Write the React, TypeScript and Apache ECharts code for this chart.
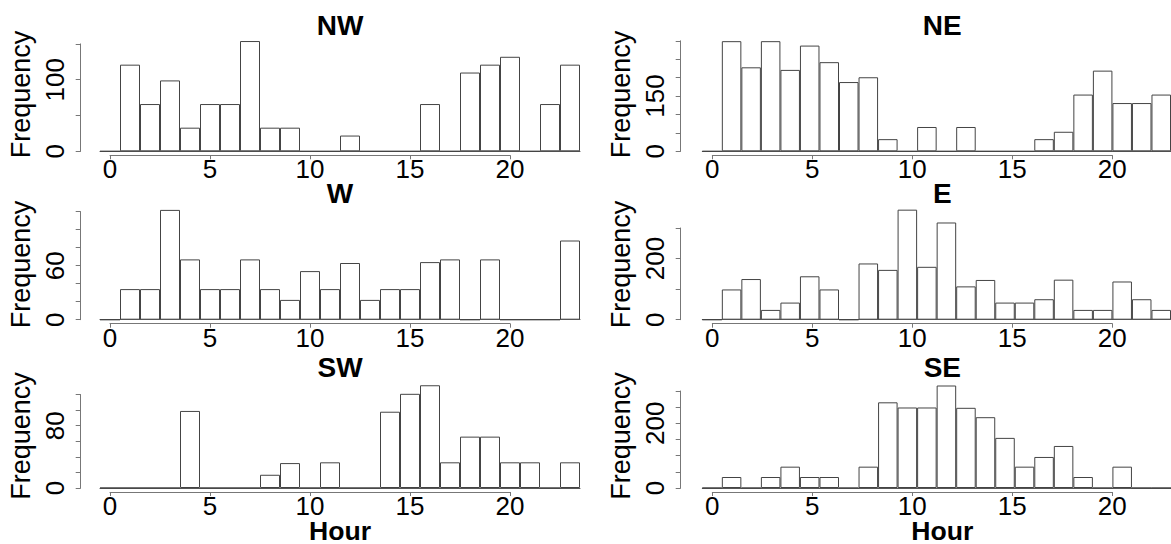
import React, { useEffect, useRef } from "react";
import * as echarts from "echarts";

// ---- data ----
const hours = ["0","1","2","3","4","5","6","7","8","9","10","11","12","13","14","15","16","17","18","19","20","21","22","23"];
const xTicks = [0, 5, 10, 15, 20];

const nwCounts = [0, 121, 66, 99, 33, 66, 66, 154, 33, 33, 0, 0, 22, 0, 0, 0, 66, 0, 110, 121, 132, 0, 66, 121];
const neCounts = [0, 299, 228, 299, 221, 287, 242, 188, 201, 33, 0, 66, 0, 66, 0, 0, 0, 33, 53, 154, 219, 131, 131, 154];
const wCounts = [0, 34, 34, 122, 67, 34, 34, 67, 34, 22, 54, 34, 63, 22, 34, 34, 64, 67, 0, 67, 0, 0, 0, 88];
const eCounts = [0, 99, 133, 32, 56, 142, 99, 0, 184, 163, 360, 173, 318, 109, 130, 56, 56, 67, 131, 32, 32, 125, 67, 32];
const swCounts = [0, 0, 0, 0, 99, 0, 0, 0, 17, 32, 0, 33, 0, 0, 98, 121, 132, 33, 66, 66, 33, 33, 0, 33];
const seCounts = [0, 34, 0, 34, 66, 34, 34, 0, 66, 265, 249, 249, 317, 248, 219, 155, 66, 96, 130, 34, 0, 66, 0, 0];

const panelNames = ["NW", "NE", "W", "E", "SW", "SE"];
const panelCounts = [nwCounts, neCounts, wCounts, eCounts, swCounts, seCounts];
const yTickMax = [150, 300, 120, 300, 120, 300];
const yTickStep = [50, 50, 20, 100, 20, 50];
const yShownLabels = [[0, 100], [0, 150], [0, 60], [0, 200], [0, 80], [0, 200]];

// ---- layout (pixels) ----
const rowBase = [151.3, 319.7, 488];
const colBinLeft = [100, 702.3];
const colZero = [110, 712.3];
const colAxisX = [80.7, 680.7];
const plotH = [107.4, 110.5, 108, 91.7, 93.4, 97];
const titleY = [25.5, 193, 367];
const freqY = [94.5, 264.5, 436];
const FONT = "'Liberation Sans', Arial, Helvetica, sans-serif";

export default function App() {
  const ref = useRef<HTMLDivElement>(null);
  useEffect(() => {
    if (!ref.current) return;
    const chart = echarts.init(ref.current, null, { renderer: "svg" });
    const grids: any[] = [];
    const xAxes: any[] = [];
    const yAxes: any[] = [];
    const series: any[] = [];
    const graphics: any[] = [];
    const n = panelNames.length;
    for (let i = 0; i < n; i++) {
      const r = Math.floor(i / 2);
      const c = i % 2;
      const B = rowBase[r];
      grids.push({ left: colBinLeft[c], top: B - plotH[i], width: 480, height: plotH[i] });
      xAxes.push({
        type: "category", gridIndex: i, data: hours, boundaryGap: true,
        axisLine: { show: true, lineStyle: { color: "#555", width: 1 } },
        axisTick: { show: false }, axisLabel: { show: false }, splitLine: { show: false },
      });
      const shown = yShownLabels[i];
      yAxes.push({
        type: "value", gridIndex: i, min: 0, max: yTickMax[i], interval: yTickStep[i],
        position: "left", offset: colBinLeft[c] - colAxisX[c],
        axisLine: { show: true, lineStyle: { color: "#777", width: 1 } },
        axisTick: { show: true, length: 5, lineStyle: { color: "#777" } },
        axisLabel: {
          rotate: 90, margin: 13, fontSize: 26, fontFamily: FONT, color: "#000",
          showMinLabel: true, showMaxLabel: true,
          formatter: (v: number) => (shown.indexOf(v) >= 0 ? String(v) : ""),
        },
        splitLine: { show: false },
      });
      series.push({
        type: "bar", xAxisIndex: i, yAxisIndex: i, data: panelCounts[i],
        barCategoryGap: "0%", barGap: "0%", clip: false, silent: true,
        itemStyle: { color: "#ffffff", borderColor: "#444", borderWidth: 1 },
      });
      graphics.push({
        type: "text", x: colZero[c] + 230, y: titleY[r],
        style: { text: panelNames[i], fontSize: 28, fontWeight: "bold", fontFamily: FONT, fill: "#000",
          textAlign: "center", textVerticalAlign: "middle", align: "center", verticalAlign: "middle" },
      });
      graphics.push({
        type: "text", x: colAxisX[c] - 59.5, y: freqY[r], rotation: Math.PI / 2,
        style: { text: "Frequency", fontSize: 27, fontFamily: FONT, fill: "#000",
          textAlign: "center", textVerticalAlign: "middle", align: "center", verticalAlign: "middle" },
      });
    }
    for (let i = 0; i < n; i++) {
      const r = Math.floor(i / 2);
      const c = i % 2;
      const B = rowBase[r];
      const gi = n + i;
      grids.push({ left: colZero[c], top: B + 3, width: 400, height: 1 });
      xAxes.push({
        type: "value", gridIndex: gi, min: xTicks[0], max: xTicks[xTicks.length - 1], interval: xTicks[1] - xTicks[0],
        position: "bottom",
        axisLine: { show: true, lineStyle: { color: "#777", width: 1 } },
        axisTick: { show: true, length: 4, lineStyle: { color: "#777" } },
        axisLabel: { margin: 3, fontSize: 26, lineHeight: 22, fontFamily: FONT, color: "#000", showMinLabel: true, showMaxLabel: true },
        splitLine: { show: false },
      });
      yAxes.push({ type: "value", gridIndex: gi, show: false });
    }
    for (let c = 0; c < 2; c++) {
      graphics.push({
        type: "text", x: colZero[c] + 230, y: 530.5,
        style: { text: "Hour", fontSize: 26.6, lineHeight: 24, fontWeight: "bold", fontFamily: FONT, fill: "#000",
          textAlign: "center", textVerticalAlign: "middle", align: "center", verticalAlign: "middle" },
      });
    }
    chart.setOption({
      animation: false,
      backgroundColor: "#ffffff",
      grid: grids,
      xAxis: xAxes,
      yAxis: yAxes,
      series,
      graphic: { elements: graphics },
    });
    return () => chart.dispose();
  }, []);
  return (
    <div
      ref={ref}
      style={{ position: "fixed", left: 0, top: 0, width: 1171, height: 544, background: "#fff" }}
    />
  );
}
